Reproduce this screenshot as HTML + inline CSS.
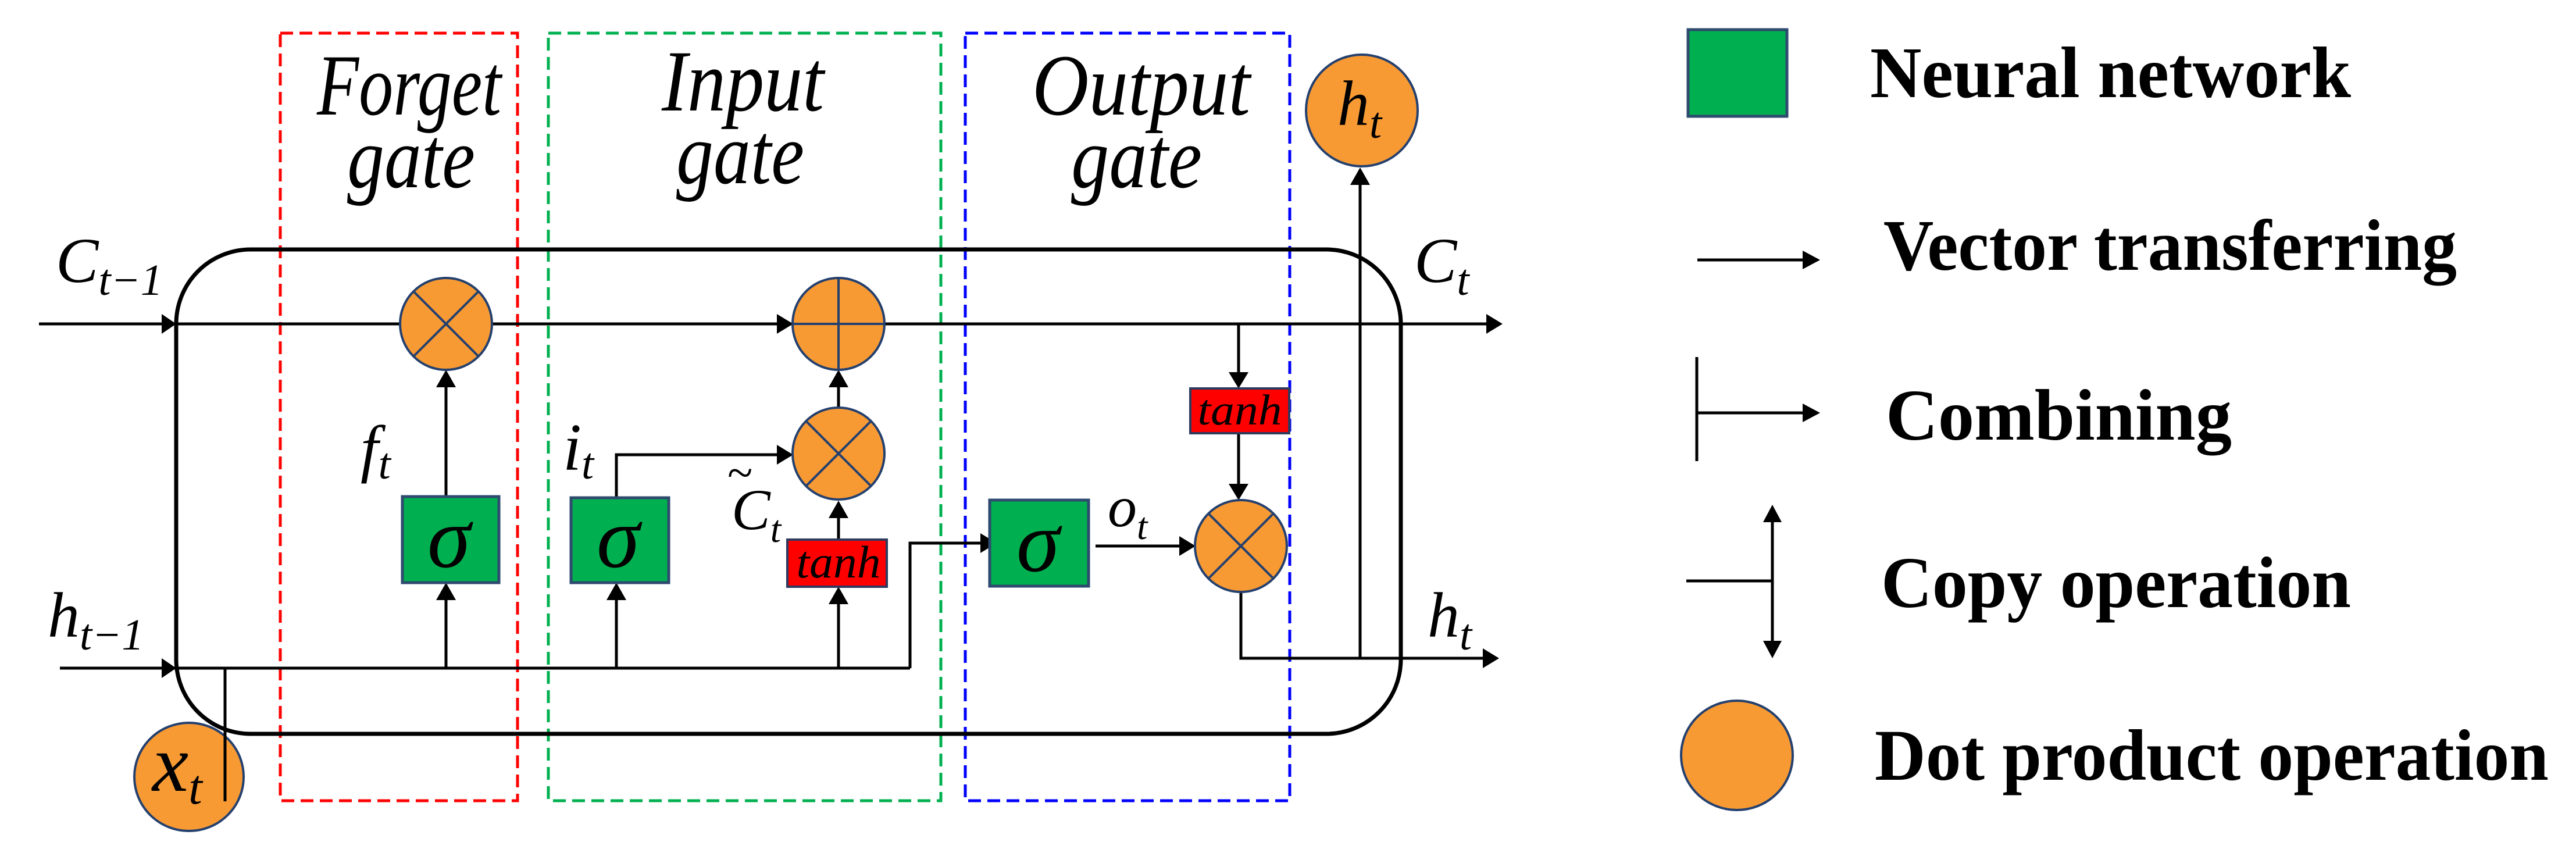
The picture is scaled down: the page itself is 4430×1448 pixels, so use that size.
<!DOCTYPE html>
<html><head><meta charset="utf-8"><style>
html,body{margin:0;padding:0;background:#fff;}
svg{display:block;}
.it{font-family:"Liberation Serif",serif;font-style:italic;}
.lg{font-family:"Liberation Serif",serif;font-weight:bold;font-size:118px;}
</style></head><body>
<svg width="4430" height="1448" viewBox="0 0 4430 1448" xmlns="http://www.w3.org/2000/svg">
<g fill="none" stroke-width="5" stroke-dasharray="22 11">
<rect x="482" y="57" width="408" height="1320" stroke="#ff0000"/>
<rect x="943" y="57" width="675" height="1320" stroke="#00b050"/>
<rect x="1660" y="57" width="558" height="1320" stroke="#0000ff"/>
</g>
<rect x="303" y="429" width="2106" height="833" rx="128" ry="128" fill="none" stroke="#000" stroke-width="7"/>
<g stroke="#000" stroke-width="5" fill="none">
<line x1="67" y1="557" x2="2560" y2="557"/>
<line x1="103" y1="1149" x2="1565" y2="1149"/>
<polyline points="1565,1149 1565,934 1690,934"/>
<polyline points="2134,1018 2134,1132 2555,1132"/>
<line x1="2339" y1="1132" x2="2339" y2="315"/>
<line x1="387" y1="1149" x2="387" y2="1378"/>
<line x1="767" y1="854" x2="767" y2="665"/>
<line x1="767" y1="1149" x2="767" y2="1030"/>
<line x1="1060" y1="1149" x2="1060" y2="1030"/>
<line x1="1442" y1="1149" x2="1442" y2="1037"/>
<polyline points="1060,856 1060,782 1340,782"/>
<line x1="1442" y1="928" x2="1442" y2="890"/>
<line x1="1442" y1="703" x2="1442" y2="665"/>
<line x1="2130" y1="557" x2="2130" y2="642"/>
<line x1="2130" y1="745" x2="2130" y2="834"/>
<line x1="1884" y1="939" x2="2030" y2="939"/>
</g>
<g fill="#000">
<polygon points="303,557 278,540 278,574"/>
<polygon points="303,1149 278,1132 278,1166"/>
<polygon points="2584,557 2556,540 2556,574"/>
<polygon points="2578,1132 2550,1115 2550,1149"/>
<polygon points="1714,934 1686,917 1686,951"/>
<polygon points="1364,557 1336,540 1336,574"/>
<polygon points="1364,782 1336,765 1336,799"/>
<polygon points="2056,939 2028,922 2028,956"/>
<polygon points="767,636 750,666 784,666"/>
<polygon points="767,1002 750,1032 784,1032"/>
<polygon points="1060,1002 1043,1032 1077,1032"/>
<polygon points="1442,1009 1425,1039 1459,1039"/>
<polygon points="1442,861 1425,891 1459,891"/>
<polygon points="1442,636 1425,666 1459,666"/>
<polygon points="2130,668 2113,640 2147,640"/>
<polygon points="2130,860 2113,832 2147,832"/>
<polygon points="2339,288 2322,318 2356,318"/>
</g>
<g fill="#f79a34" stroke="#24406e" stroke-width="4">
<ellipse cx="767" cy="557" rx="79" ry="79"/>
<ellipse cx="1442" cy="557" rx="79" ry="79"/>
<ellipse cx="1442" cy="780" rx="79" ry="79"/>
<ellipse cx="2134" cy="939" rx="79" ry="79"/>
<ellipse cx="2342" cy="190" rx="96" ry="96"/>
<ellipse cx="325" cy="1336" rx="94" ry="93"/>
</g>
<g stroke="#24406e" stroke-width="4">
<line x1="711" y1="501" x2="823" y2="613"/><line x1="823" y1="501" x2="711" y2="613"/>
<line x1="1363" y1="557" x2="1521" y2="557"/><line x1="1442" y1="478" x2="1442" y2="636"/>
<line x1="1386" y1="724" x2="1498" y2="836"/><line x1="1498" y1="724" x2="1386" y2="836"/>
<line x1="2078" y1="883" x2="2190" y2="995"/><line x1="2190" y1="883" x2="2078" y2="995"/>
</g>
<line x1="387" y1="1260" x2="387" y2="1378" stroke="#000" stroke-width="5"/>
<g fill="#00b050" stroke="#2e4a6e" stroke-width="5">
<rect x="692" y="854" width="166" height="148"/>
<rect x="982" y="856" width="168" height="146"/>
<rect x="1702" y="860" width="170" height="148"/>
<rect x="2903" y="51" width="170" height="149"/>
</g>
<g fill="#ff0000" stroke="#2e3a5e" stroke-width="4">
<rect x="1354" y="928" width="171" height="81"/>
<rect x="2047" y="668" width="170" height="77"/>
</g>
<g class="it" fill="#000">
<text x="545" y="197" font-size="150" textLength="317" lengthAdjust="spacingAndGlyphs">Forget</text>
<text x="597" y="322" font-size="150" textLength="220" lengthAdjust="spacingAndGlyphs">gate</text>
<text x="1138" y="190" font-size="150" textLength="279" lengthAdjust="spacingAndGlyphs">Input</text>
<text x="1163" y="315" font-size="150" textLength="220" lengthAdjust="spacingAndGlyphs">gate</text>
<text x="1775" y="197" font-size="150" textLength="375" lengthAdjust="spacingAndGlyphs">Output</text>
<text x="1842" y="322" font-size="150" textLength="225" lengthAdjust="spacingAndGlyphs">gate</text>
<text x="772" y="975" font-size="150" text-anchor="middle">σ</text>
<text x="1063" y="975" font-size="150" text-anchor="middle">σ</text>
<text x="1785" y="982" font-size="150" text-anchor="middle">σ</text>
<text x="1442" y="993" font-size="78" text-anchor="middle" textLength="145" lengthAdjust="spacingAndGlyphs">tanh</text>
<text x="2132" y="730" font-size="74" text-anchor="middle" textLength="145" lengthAdjust="spacingAndGlyphs">tanh</text>
<text x="96" y="485" font-size="110">C<tspan font-size="76" dy="22">t−1</tspan></text>
<text x="2432" y="485" font-size="110">C<tspan font-size="76" dy="22">t</tspan></text>
<text x="82" y="1095" font-size="110">h<tspan font-size="76" dy="22">t−1</tspan></text>
<text x="2455" y="1095" font-size="110">h<tspan font-size="76" dy="22">t</tspan></text>
<text x="2300" y="215" font-size="110">h<tspan font-size="76" dy="22">t</tspan></text>
<text x="262" y="1360" font-size="140">x<tspan font-size="85" dy="22">t</tspan></text>
<text x="620" y="808" font-size="110">f<tspan font-size="76" dy="15">t</tspan></text>
<text x="968" y="808" font-size="115">i<tspan font-size="76" dy="15">t</tspan></text>
<text x="1258" y="910" font-size="100">C<tspan font-size="66" dy="22">t</tspan></text>
<text x="1250" y="840" font-size="80">~</text>
<text x="1905" y="905" font-size="100">o<tspan font-size="66" dy="22">t</tspan></text>
</g>
<g stroke="#000" stroke-width="5" fill="none">
<line x1="2919" y1="447" x2="3105" y2="447"/>
<line x1="2918" y1="614" x2="2918" y2="793"/>
<line x1="2918" y1="710" x2="3105" y2="710"/>
<line x1="3048" y1="895" x2="3048" y2="1105"/>
<line x1="2900" y1="999" x2="3048" y2="999"/>
</g>
<g fill="#000">
<polygon points="3130,447 3100,431 3100,463"/>
<polygon points="3130,710 3100,694 3100,726"/>
<polygon points="3048,868 3032,898 3064,898"/>
<polygon points="3048,1132 3032,1102 3064,1102"/>
</g>
<ellipse cx="2987" cy="1299" rx="96" ry="94" fill="#f79a34" stroke="#24406e" stroke-width="4"/>
<g class="lg" fill="#000">
<text x="3216" y="167" font-size="125" textLength="827" lengthAdjust="spacingAndGlyphs">Neural network</text>
<text x="3239" y="464" font-size="125" textLength="986" lengthAdjust="spacingAndGlyphs">Vector transferring</text>
<text x="3243" y="756" font-size="125" textLength="595" lengthAdjust="spacingAndGlyphs">Combining</text>
<text x="3235" y="1044" font-size="125" textLength="808" lengthAdjust="spacingAndGlyphs">Copy operation</text>
<text x="3224" y="1341" font-size="125" textLength="1159" lengthAdjust="spacingAndGlyphs">Dot product operation</text>
</g>
</svg>
</body></html>
